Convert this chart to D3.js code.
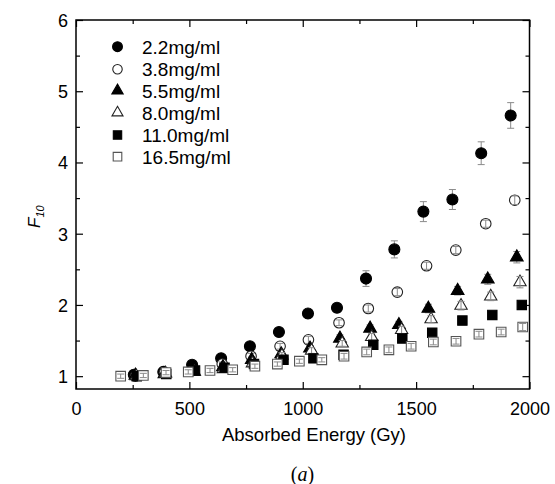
<!DOCTYPE html>
<html><head><meta charset="utf-8">
<script src="https://cdn.jsdelivr.net/npm/d3@7"></script>
<style>body{margin:0;background:#fff}svg{display:block}</style>
</head><body>
<svg id="c" width="555" height="484"></svg>
<script>
// ---- data ----
const seriesNames = ["2.2mg/ml","3.8mg/ml","5.5mg/ml","8.0mg/ml","11.0mg/ml","16.5mg/ml"];
const x22 = [255,385,512,640,767,895,1023,1151,1279,1404,1532,1660,1787,1917];
const y22 = [1.02,1.06,1.16,1.25,1.42,1.62,1.88,1.96,2.37,2.78,3.31,3.48,4.13,4.66];
const e22 = [0.03,0.03,0.03,0.04,0.04,0.05,0.05,0.06,0.11,0.12,0.14,0.14,0.16,0.18];
const x38 = [262,390,518,645,772,900,1025,1160,1289,1417,1546,1675,1807,1935];
const y38 = [1.00,1.05,1.08,1.17,1.28,1.42,1.51,1.75,1.95,2.18,2.55,2.77,3.14,3.47];
const e38 = [0.02,0.03,0.03,0.03,0.04,0.04,0.05,0.04,0.05,0.05,0.05,0.05,0.05,0.06];
const x55 = [262,390,518,648,775,905,1032,1164,1297,1424,1554,1683,1816,1944];
const y55 = [1.01,1.03,1.08,1.13,1.23,1.31,1.39,1.53,1.67,1.72,1.95,2.20,2.36,2.67];
const e55 = [0.03,0.03,0.03,0.04,0.04,0.04,0.04,0.05,0.05,0.05,0.06,0.06,0.07,0.08];
const x80 = [266,395,522,650,778,908,1039,1174,1304,1436,1566,1698,1829,1958];
const y80 = [1.00,1.04,1.06,1.10,1.18,1.29,1.36,1.46,1.55,1.65,1.80,1.99,2.12,2.32];
const e80 = [0.03,0.03,0.03,0.03,0.04,0.04,0.04,0.04,0.05,0.05,0.05,0.06,0.06,0.08];
const x110 = [268,398,525,655,785,915,1047,1180,1311,1439,1571,1704,1836,1966];
const y110 = [1.00,1.03,1.08,1.12,1.17,1.23,1.25,1.30,1.44,1.53,1.61,1.78,1.86,2.00];
const e110 = [0.03,0.03,0.03,0.03,0.03,0.04,0.04,0.04,0.04,0.05,0.05,0.05,0.05,0.06];
const x165 = [197,297,397,495,591,691,789,888,985,1084,1182,1282,1380,1478,1576,1676,1777,1875,1970];
const y165 = [1.00,1.01,1.05,1.06,1.08,1.09,1.14,1.17,1.21,1.23,1.28,1.34,1.37,1.42,1.48,1.49,1.59,1.62,1.69];
const e165 = [0.03,0.03,0.03,0.03,0.03,0.03,0.03,0.03,0.03,0.03,0.04,0.04,0.04,0.04,0.04,0.04,0.04,0.04,0.05];
const xTicks = [0,500,1000,1500,2000];
const yTicks = [1,2,3,4,5,6];
const xTitle = "Absorbed Energy (Gy)";
const caption = "a";

// ---- styles ----
const styles = [
  {type:d3.symbolCircle,   size:95, fill:"#000", stroke:"#000", open:false},
  {type:d3.symbolCircle,   size:88, fill:"#fff", stroke:"#222", open:true},
  {type:d3.symbolTriangle, size:70, fill:"#000", stroke:"#000", open:false},
  {type:d3.symbolTriangle, size:66, fill:"#fff", stroke:"#222", open:true},
  {type:d3.symbolSquare,   size:88, fill:"#000", stroke:"#000", open:false},
  {type:d3.symbolSquare,   size:92, fill:"#fff", stroke:"#555", open:true}
];
const seriesData = [[x22,y22,e22],[x38,y38,e38],[x55,y55,e55],[x80,y80,e80],[x110,y110,e110],[x165,y165,e165]];

const svg = d3.select("#c");
const L=76, R=529.5, T=20, B=389;
const x = d3.scaleLinear().domain([0,2000]).range([L,R]);
const y = d3.scaleLinear().domain([0.82,6]).range([B,T]);
const font = "'Liberation Sans', Arial, sans-serif";

// plot frame
svg.append("rect").attr("x",L).attr("y",T).attr("width",R-L).attr("height",B-T)
  .attr("fill","none").attr("stroke","#000").attr("stroke-width",1.5);

// ticks (inward, all four sides)
const xMinor = d3.range(250,2000,500);
const yMinor = d3.range(1.5,6,1);
function axisTicks(axisFn, scale, vals, size, labels, transform){
  const g = svg.append("g").attr("transform",transform);
  const ax = axisFn(scale).tickValues(vals).tickSize(size).tickSizeOuter(0);
  if(!labels) ax.tickFormat(""); else ax.tickFormat(d3.format("d")).tickPadding(-size+12);
  g.call(ax);
  g.select(".domain").remove();
  g.selectAll(".tick line").attr("stroke","#000").attr("stroke-width",1.2);
  g.selectAll("text").attr("font-family",font).attr("font-size",18).attr("fill","#000");
  return g;
}
// bottom
const gb = axisTicks(d3.axisBottom, x, xTicks, -7, true, `translate(0,${B})`);
gb.selectAll("text").attr("dy","0").attr("y",26);
axisTicks(d3.axisBottom, x, xMinor, -4, false, `translate(0,${B})`);
// top
axisTicks(d3.axisTop, x, xTicks, -7, false, `translate(0,${T})`);
axisTicks(d3.axisTop, x, xMinor, -4, false, `translate(0,${T})`);
// left
const gl = axisTicks(d3.axisLeft, y, yTicks, -7, true, `translate(${L},0)`);
gl.selectAll("text").attr("x",-8).attr("dy","0.36em");
axisTicks(d3.axisLeft, y, yMinor, -4, false, `translate(${L},0)`);
// right
axisTicks(d3.axisRight, y, yTicks, -7, false, `translate(${R},0)`);
axisTicks(d3.axisRight, y, yMinor, -4, false, `translate(${R},0)`);

// data
const plot = svg.append("g");
function errBars(g, xs, ys, es){
  const cap = 3.5;
  const eg = g.append("g").attr("stroke","#8a8a8a").attr("stroke-width",1);
  xs.forEach((xv,i)=>{
    const cx = x(xv), y0 = y(ys[i]-es[i]), y1 = y(ys[i]+es[i]);
    eg.append("line").attr("x1",cx).attr("x2",cx).attr("y1",y0).attr("y2",y1);
    eg.append("line").attr("x1",cx-cap).attr("x2",cx+cap).attr("y1",y0).attr("y2",y0);
    eg.append("line").attr("x1",cx-cap).attr("x2",cx+cap).attr("y1",y1).attr("y2",y1);
  });
}
seriesData.forEach(([xs,ys,es],k)=>{
  const st = styles[k];
  const g = plot.append("g");
  if(!st.open) errBars(g,xs,ys,es);
  const sym = d3.symbol().type(st.type).size(st.size);
  g.selectAll("path.m").data(xs.map((v,i)=>[v,ys[i]])).join("path")
    .attr("class","m")
    .attr("d",sym)
    .attr("transform",d=>`translate(${x(d[0])},${y(d[1])})`)
    .attr("fill",st.fill).attr("stroke",st.stroke).attr("stroke-width",1.1);
  if(st.open) errBars(g,xs,ys,es);
});

// legend
const legY = [46.7,69.3,90.7,112.7,135,156.7];
const leg = svg.append("g");
seriesNames.forEach((name,k)=>{
  const st = styles[k];
  leg.append("path").attr("d",d3.symbol().type(st.type).size(st.size*0.8)())
    .attr("transform",`translate(117.5,${legY[k]})`)
    .attr("fill",st.fill).attr("stroke",st.stroke).attr("stroke-width",1.1);
  leg.append("text").attr("x",142).attr("y",legY[k]).attr("dy","0.36em")
    .attr("font-family",font).attr("font-size",19).attr("fill","#000").text(name);
});

// axis titles
svg.append("text").attr("x",314).attr("y",441).attr("text-anchor","middle")
  .attr("font-family",font).attr("font-size",18.5).attr("fill","#000").text(xTitle);
const yl = svg.append("text").attr("transform","translate(40,228) rotate(-90)")
  .attr("font-family",font).attr("font-size",17).attr("font-style","italic").attr("fill","#000");
yl.append("tspan").text("F");
yl.append("tspan").attr("font-size",11).attr("dy",4).text("10");
const cap = svg.append("text").attr("x",302.5).attr("y",481).attr("text-anchor","middle")
  .attr("font-family","'Liberation Serif','Times New Roman',serif").attr("font-size",20).attr("fill","#000");
cap.append("tspan").text("(");
cap.append("tspan").attr("font-style","italic").text(caption);
cap.append("tspan").text(")");
</script>
</body></html>
